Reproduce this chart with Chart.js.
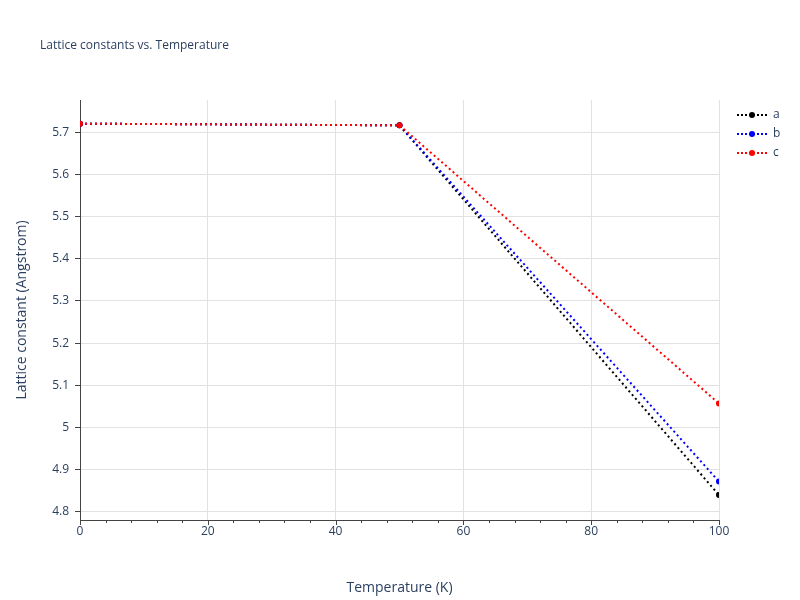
<!DOCTYPE html>
<html><head><meta charset="utf-8">
<script src="https://cdn.jsdelivr.net/npm/chart.js@4"></script>
<style>body{margin:0;background:#fff}#wrap{width:800px;height:600px}</style>
</head><body><div id="wrap"><canvas id="c"></canvas></div>
<script>
const temps = [0, 50, 100];
const aVals = [5.72, 5.716, 4.84];
const bVals = [5.72, 5.716, 4.872];
const cVals = [5.72, 5.716, 5.057];
const names = ['a', 'b', 'c'];
const colors = ['black', 'blue', 'red'];
const FONT = '"Open Sans", sans-serif';
const TXT = '#2a3f5f';

const ds = [aVals, bVals, cVals].map((v, i) => ({
  label: names[i],
  data: temps.map((t, j) => ({x: t, y: v[j]})),
  borderColor: colors[i], backgroundColor: colors[i],
  borderWidth: 2, borderDash: [2, 3], pointRadius: 3, pointBorderWidth: 0, pointHoverRadius: 3,
  order: 3 - i
}));

const extras = {
  id: 'extras',
  afterDraw(chart) {
    const ctx = chart.ctx, a = chart.chartArea;
    ctx.save();
    ctx.fillStyle = TXT;
    ctx.font = '12px ' + FONT;
    ctx.textBaseline = 'middle';
    ctx.fillText('Lattice constants vs. Temperature', 40, 46);
    // legend
    names.forEach((n, i) => {
      const y = 115 + i * 19;
      ctx.strokeStyle = colors[i]; ctx.fillStyle = colors[i];
      ctx.lineWidth = 2; ctx.setLineDash([2, 2]);
      ctx.beginPath(); ctx.moveTo(737, y); ctx.lineTo(767, y); ctx.stroke();
      ctx.setLineDash([]);
      ctx.beginPath(); ctx.arc(752, y, 3, 0, Math.PI * 2); ctx.fill();
      ctx.fillStyle = TXT;
      ctx.fillText(n, 773, y);
    });
    // minor ticks on x
    const xs = chart.scales.x;
    ctx.strokeStyle = '#444'; ctx.lineWidth = 1;
    for (let t = 0; t <= 100; t += 4) {
      const px = Math.round(xs.getPixelForValue(t)) + 0.5;
      ctx.beginPath(); ctx.moveTo(px, a.bottom); ctx.lineTo(px, a.bottom + (t % 20 === 0 ? 5 : 3)); ctx.stroke();
    }
    ctx.restore();
  }
};

new Chart(document.getElementById('c'), {
  type: 'line',
  data: {datasets: ds},
  options: {
    responsive: true, maintainAspectRatio: false, animation: false,
    layout: {padding: {top: 100, right: 81, left: 0, bottom: 0}},
    plugins: {legend: {display: false}, tooltip: {enabled: false}},
    scales: {
      x: {
        type: 'linear', min: 0, max: 100,
        ticks: {stepSize: 20, color: TXT, font: {family: FONT, size: 12}, padding: 4},
        grid: {color: '#e2e2e2', drawTicks: false},
        border: {display: true, color: '#444'},
        title: {display: true, text: 'Temperature (K)', color: TXT, font: {family: FONT, size: 14}, padding: {top: 0}},
        afterFit(s) { s.height = 80; }
      },
      y: {
        min: 4.781, max: 5.776,
        afterBuildTicks(s) { const t = []; for (let v = 4.8; v <= 5.71; v += 0.1) t.push({value: +v.toFixed(1)}); s.ticks = t; },
        ticks: {color: TXT, font: {family: FONT, size: 12}, padding: 6, callback: v => String(+v.toFixed(1))},
        grid: {color: '#e2e2e2', tickLength: 5, tickColor: '#444'},
        border: {display: true, color: '#444'},
        title: {display: true, text: 'Lattice constant (Angstrom)', color: TXT, font: {family: FONT, size: 14}, padding: {top: 14, bottom: 0}},
        afterFit(s) { s.width = 80; }
      }
    }
  },
  plugins: [extras]
});
</script></body></html>
